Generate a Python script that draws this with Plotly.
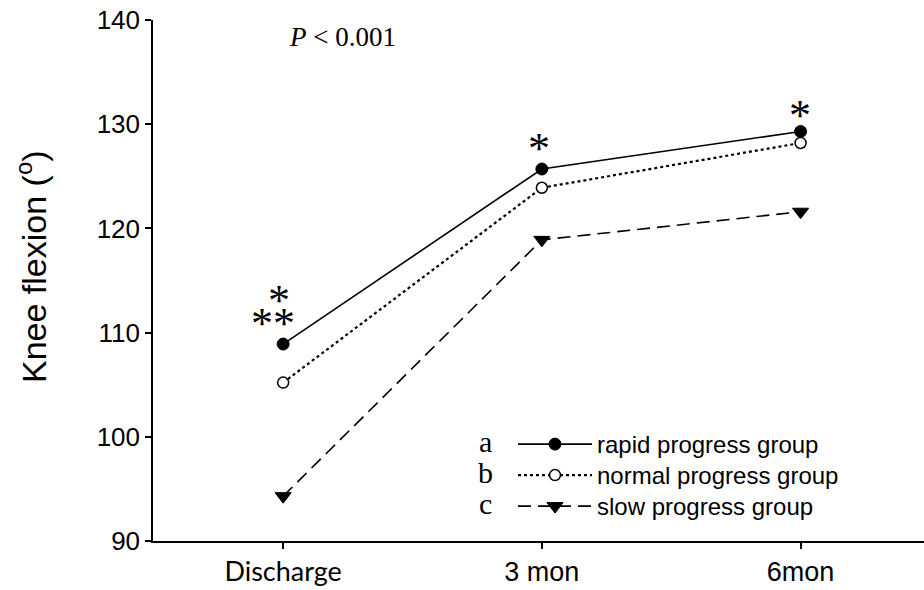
import plotly.graph_objects as go

categories = ["Discharge", "3 mon", "6mon"]
x_pos = [0, 1, 2]
rapid = [108.9, 125.7, 129.3]
normal = [105.2, 123.9, 128.2]
slow = [94.3, 118.9, 121.6]
series_names = ["rapid progress group", "normal progress group", "slow progress group"]
y_ticks = [90, 100, 110, 120, 130, 140]

tick_text = ['<span style="font-family:Lato, Carlito, sans-serif">Discharge</span>', "3 mon", "6mon"]

fig = go.Figure()
fig.add_trace(go.Scatter(
    x=x_pos, y=rapid, name=series_names[0], mode="lines+markers", legend="legend",
    line=dict(color="black", width=1.6, dash="solid"),
    marker=dict(symbol="circle", size=12, color="black", line=dict(color="black", width=1)),
))
fig.add_trace(go.Scatter(
    x=x_pos, y=normal, name=series_names[1], mode="lines+markers", legend="legend2",
    line=dict(color="black", width=2.2, dash="dot"),
    marker=dict(symbol="circle", size=11, color="white", line=dict(color="black", width=1.5)),
))
fig.add_trace(go.Scatter(
    x=x_pos, y=slow, name=series_names[2], mode="lines+markers", legend="legend3",
    line=dict(color="black", width=1.6, dash="13px,7px"),
    marker=dict(symbol="triangle-down", size=14, color="black", line=dict(color="black", width=1)),
))

annotations = []
# significance markers
star_font = dict(family="Liberation Serif, Times New Roman, serif", size=44, color="black")
annotations.append(dict(x=x_pos[0], y=rapid[0], xref="x", yref="y", text="*", showarrow=False,
                        font=star_font, xanchor="center", yanchor="middle", xshift=-4, yshift=44))
annotations.append(dict(x=x_pos[0], y=rapid[0], xref="x", yref="y", text="**", showarrow=False,
                        font=star_font, xanchor="center", yanchor="middle", xshift=-10, yshift=21))
annotations.append(dict(x=x_pos[1], y=rapid[1], xref="x", yref="y", text="*", showarrow=False,
                        font=star_font, xanchor="center", yanchor="middle", xshift=-3, yshift=21))
annotations.append(dict(x=x_pos[2], y=rapid[2], xref="x", yref="y", text="*", showarrow=False,
                        font=star_font, xanchor="center", yanchor="middle", xshift=-1, yshift=16))

# P value
annotations.append(dict(x=(287 - 153) / 771, y=(590 - 49 - 37) / 521, xref="paper", yref="paper",
                        text="<i>P</i> &lt; 0.001", showarrow=False, xanchor="left", yanchor="middle",
                        font=dict(family="Liberation Serif, Times New Roman, serif", size=27, color="black")))

# y-axis title
annotations.append(dict(x=(31 - 153) / 771, y=(541 - 267) / 521, xref="paper", yref="paper",
                        text="Knee flexion (<sup>o</sup>)", textangle=-90, showarrow=False,
                        xanchor="center", yanchor="middle",
                        font=dict(family="Liberation Sans, Arial, sans-serif", size=34, color="black")))

# legend letters
for letter, ypx in zip(["a", "b", "c"], [441, 472, 503]):
    annotations.append(dict(x=(485 - 153) / 771, y=(541 - ypx) / 521, xref="paper", yref="paper",
                            text=letter, showarrow=False, xanchor="center", yanchor="middle",
                            font=dict(family="Liberation Serif, Times New Roman, serif", size=30, color="black")))

legend_common = dict(xanchor="left", yanchor="top", bgcolor="rgba(0,0,0,0)",
                     font=dict(size=24, family="Liberation Sans, Arial, sans-serif"),
                     itemwidth=74, tracegroupgap=0)
legend_x = (513 - 153) / 771

fig.update_layout(
    width=924, height=590,
    margin=dict(l=153, r=0, t=20, b=49),
    paper_bgcolor="white", plot_bgcolor="white",
    font=dict(family="Liberation Sans, Arial, sans-serif", size=26, color="black"),
    showlegend=True,
    legend=dict(x=legend_x, y=(541 - 422) / 521, **legend_common),
    legend2=dict(x=legend_x, y=(541 - 453) / 521, **legend_common),
    legend3=dict(x=legend_x, y=(541 - 484) / 521, **legend_common),
    annotations=annotations,
    xaxis=dict(range=[-0.503, 2.477], tickvals=x_pos, ticktext=tick_text,
               showline=True, linecolor="black", linewidth=1.5, ticks="outside", ticklen=6,
               tickwidth=1.5, tickcolor="black", showgrid=False, zeroline=False,
               tickfont=dict(size=27)),
    yaxis=dict(range=[90, 140], tickvals=y_ticks, showline=True, linecolor="black", linewidth=1.5,
               ticks="outside", ticklen=6, tickwidth=1.5, tickcolor="black", showgrid=False,
               zeroline=False, tickfont=dict(size=26)),
)

fig.write_html("out.html")
